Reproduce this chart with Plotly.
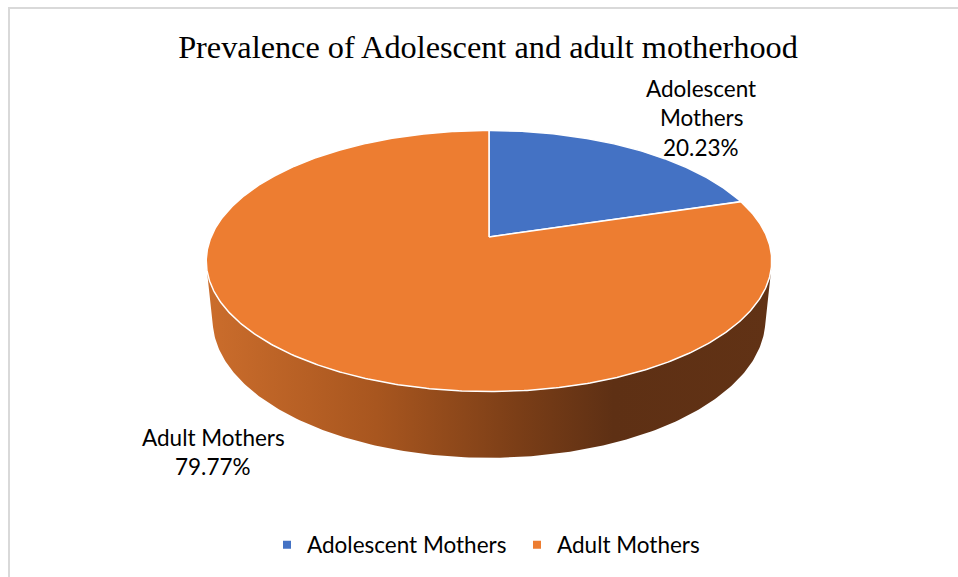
import numpy as np
import plotly.graph_objects as go

# ---- data ----
labels = ["Adolescent Mothers", "Adult Mothers"]
values = [20.23, 79.77]
colors = ["#4472C4", "#ED7D31"]
title = "Prevalence of Adolescent and adult motherhood"

W, H = 958, 577
# perspective geometry of the 3-D pie (pixel space)
CX, CY = 489.0, 237.0
F, D = 1348.0, 4.85
ELEV = np.radians(27.0)
S, C = np.sin(ELEV), np.cos(ELEV)
DEPTH = 0.238


def proj(phi_deg, r=1.0, y=0.0):
    phi = np.radians(np.asarray(phi_deg, dtype=float))
    X = r * np.sin(phi)
    Z = -r * np.cos(phi)
    yd = Z * S - y * C
    dep = D - Z * C - y * S
    return CX + F * X / dep, CY + F * yd / dep


fig = go.Figure()

# side band (front half of the cylinder)
tz = 1.0 / (D * C)
phi_a = np.degrees(np.arccos(-tz))
phi_b = 360 - phi_a
arc = np.linspace(phi_a, phi_b, 200)
xt, yt = proj(arc)
xb, yb = proj(arc[::-1], y=-DEPTH)
fig.add_trace(go.Scatter(
    x=np.concatenate([xt, xb]), y=np.concatenate([yt, yb]),
    mode="lines", fill="toself", line=dict(width=0, color="rgba(0,0,0,0)"),
    fillgradient=dict(type="horizontal",
                      colorscale=[[0, "#CB6D2C"], [0.3, "#A8561F"],
                                  [0.55, "#7B3E17"], [0.72, "#5E3014"],
                                  [1, "#613215"]]),
    hoverinfo="skip", showlegend=False))

# top slices
total = sum(values)
start = 0.0
for lab, val, col in zip(labels, values, colors):
    sweep = 360.0 * val / total
    a = np.linspace(start, start + sweep, max(int(sweep * 2), 10))
    xs, ys = proj(a)
    xs = np.concatenate([[CX], xs, [CX]])
    ys = np.concatenate([[CY], ys, [CY]])
    fig.add_trace(go.Scatter(x=xs, y=ys, mode="lines", fill="toself",
                             fillcolor=col, line=dict(color="white", width=1.5),
                             hoverinfo="skip", showlegend=False))
    start += sweep

# legend entries
for lab, col in zip(labels, colors):
    fig.add_trace(go.Scatter(x=[None], y=[None], mode="markers", name=lab,
                             marker=dict(symbol="square", size=8, color=col)))

# data labels
lab_font = dict(family="Lato", size=22.5, color="#000000")
lines0 = labels[0].split() + [f"{values[0]:.2f}%"]
for i, t in enumerate(lines0):
    fig.add_annotation(x=701, y=88 + 29.5 * i, text=t, showarrow=False,
                       xref="x", yref="y", font=lab_font)
lines1 = [labels[1], f"{values[1]:.2f}%"]
for i, t in enumerate(lines1):
    fig.add_annotation(x=213, y=437 + 29.5 * i, text=t, showarrow=False,
                       xref="x", yref="y", font=lab_font)

# chart border
fig.add_shape(type="rect", x0=9, y0=8, x1=W + 5, y1=H + 5, xref="x", yref="y",
              line=dict(color="#D9D9D9", width=2), layer="below")

fig.update_layout(
    width=W, height=H, margin=dict(l=0, r=0, t=0, b=0),
    paper_bgcolor="white", plot_bgcolor="white",
    title=dict(text=title, x=488 / W, xanchor="center", y=1 - 47 / H, yanchor="middle",
               font=dict(family="Liberation Serif", size=32.3, color="#000000")),
    xaxis=dict(range=[0, W], visible=False, fixedrange=True),
    yaxis=dict(range=[H, 0], visible=False, fixedrange=True),
    legend=dict(orientation="h", x=267 / W, xanchor="left", y=1 - 545 / H,
                yanchor="middle", font=lab_font, bgcolor="rgba(0,0,0,0)",
                entrywidth=205, entrywidthmode="pixels"),
    showlegend=True,
)

fig.write_html("out.html")
